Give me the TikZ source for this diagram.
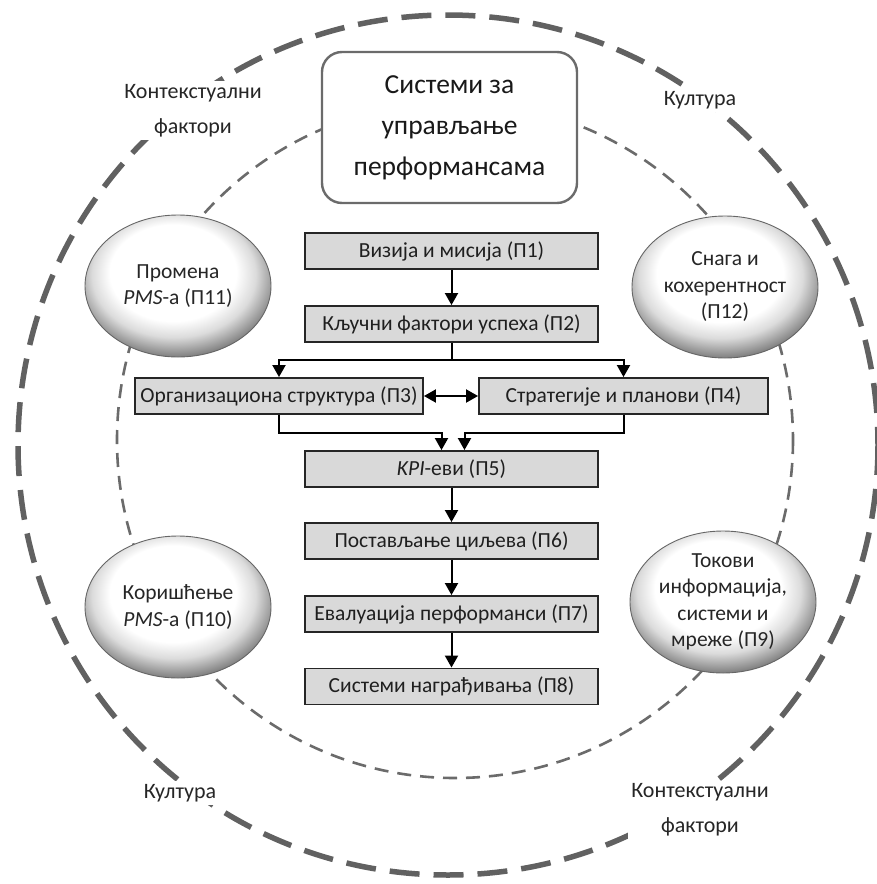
\documentclass[tikz,border=0pt]{standalone}
\usepackage{fontspec}
\setmainfont{Carlito}
\usetikzlibrary{shapes.geometric,arrows.meta}

% soft bevelled look for the factor ellipses (light on top, darker rim below)
\pgfdeclareradialshading{ballshade}{\pgfpoint{-2bp}{7bp}}{%
  color(0bp)=(white); color(17bp)=(white); color(22bp)=(black!14);
  color(26bp)=(black!38); color(30bp)=(black!62); color(50bp)=(black!62)}

\tikzset{
  outerring/.style={draw=black!62, line width=5.5pt, dash pattern=on 30pt off 14pt},
  innerring/.style={draw=black!58, line width=2.6pt, dash pattern=on 14pt off 9pt},
  ctxlabel/.style={fill=white, text=black!85, align=center, inner sep=3pt,
    font=\fontsize{22}{35}\selectfont},
  topbox/.style={draw=black!58, line width=2.4pt, fill=white, rounded corners=20pt,
    minimum width=255pt, minimum height=151pt, align=center, text=black!90,
    font=\fontsize{27.5}{41}\selectfont},
  flowbox/.style={draw=black!85, line width=1.9pt, fill=black!15, minimum width=293pt,
    minimum height=36pt, inner sep=0pt, text=black!88, font=\fontsize{21.5}{24}\selectfont},
  ball/.style={ellipse, shading=ballshade, draw=black!60, line width=0.9pt,
    minimum width=186pt, minimum height=142pt, inner sep=0pt, align=center,
    text=black!85, font=\fontsize{21.5}{26.5}\selectfont},
  arr/.style={draw=black, line width=2pt, -{Triangle[length=12pt,width=13pt]}},
  arrboth/.style={draw=black, line width=2pt,
    {Triangle[length=12pt,width=13pt]}-{Triangle[length=12pt,width=13pt]}},
}

\begin{document}
\begin{tikzpicture}[x=1pt, y=-1pt]
\useasboundingbox (0,0) rectangle (877,884);

% the two dashed rings
\draw[outerring] (448,445) circle[radius=430];
\draw[innerring] (455,440) circle[radius=338];

% labels sitting on the outer ring
\node[ctxlabel] (ctxtl) at (193,110.5) {Контекстуални\\фактори};
\node[ctxlabel] (cultr) at (700,100) {Култура};
\node[ctxlabel] (cultbl) at (180,793) {Култура};
\node[ctxlabel] (ctxbr) at (700,810) {Контекстуални\\фактори};

% title box
\node[topbox] (pms) at (449.5,127.5) {Системи за\\управљање\\перформансама};

% factor ellipses
\node[ball] (p11) at (178,286) {Промена\\\textit{PMS}-а (П11)};
\node[ball] (p12) at (725,287) {Снага и\\кохерентност\\(П12)};
\node[ball] (p10) at (178,607) {Коришћење\\\textit{PMS}-а (П10)};
\node[ball] (p9) at (723,602) {Токови\\информација,\\системи и\\мреже (П9)};

% process chain
\node[flowbox] (p1) at (451.5,251) {Визија и мисија (П1)};
\node[flowbox] (p2) at (451.5,324) {Кључни фактори успеха (П2)};
\node[flowbox, minimum width=288pt] (p3) at (279,396) {Организациона структура (П3)};
\node[flowbox, minimum width=289pt] (p4) at (623.5,396) {Стратегије и планови (П4)};
\node[flowbox] (p5) at (451.5,469) {\textit{KPI}-еви (П5)};
\node[flowbox] (p6) at (451.5,541) {Постављање циљева (П6)};
\node[flowbox] (p7) at (451.5,614) {Евалуација перформанси (П7)};
\node[flowbox] (p8) at (451.5,686.5) {Системи награђивања (П8)};

% connectors
\coordinate (split) at (451.5,360);
\coordinate (mergel) at (441.5,433);
\coordinate (merger) at (464.5,433);

\draw[arr] (p1) -- (p2);
\draw[arr] (p2.south) -- (split) -| (p3.north);
\draw[arr] (split) -| (p4.north);
\draw[arrboth] (p3) -- (p4);
\draw[arr] (p3.south) |- (mergel) -- (mergel |- p5.north);
\draw[arr] (p4.south) |- (merger) -- (merger |- p5.north);
\draw[arr] (p5) -- (p6);
\draw[arr] (p6) -- (p7);
\draw[arr] (p7) -- (p8);
\end{tikzpicture}
\end{document}
